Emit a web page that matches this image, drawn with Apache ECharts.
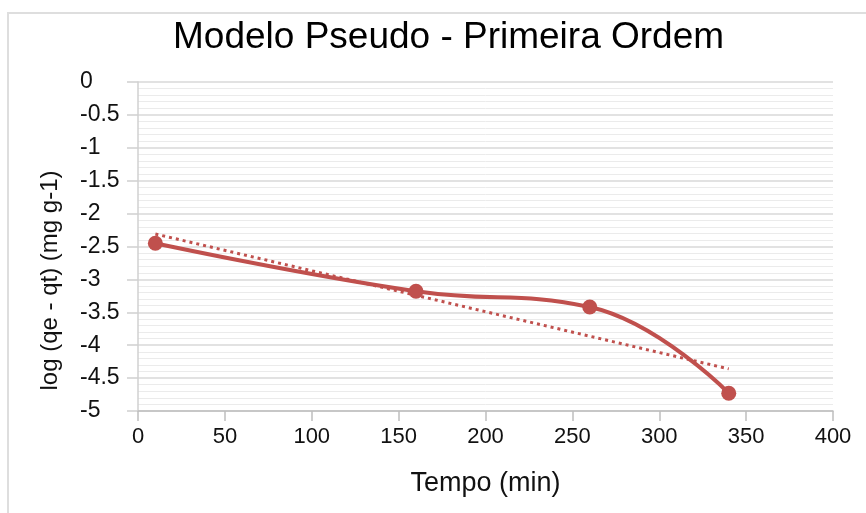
<!DOCTYPE html>
<html>
<head>
<meta charset="utf-8">
<script src="https://cdn.jsdelivr.net/npm/echarts@6/dist/echarts.min.js"></script>
<style>
html,body{margin:0;padding:0;background:#fff;}
#chart{width:866px;height:513px;}
</style>
</head>
<body>
<div id="chart"></div>
<script>
const tempo = [10, 160, 260, 340];
const logValues = [-2.45, -3.18, -3.42, -4.73];
const trendX = [10, 340];
const trendY = [-2.31, -4.36];
const xTicks = [0, 50, 100, 150, 200, 250, 300, 350, 400];
const yTicks = [0, -0.5, -1, -1.5, -2, -2.5, -3, -3.5, -4, -4.5, -5];

const red = '#c0504d';
const chart = echarts.init(document.getElementById('chart'));
chart.setOption({
  animation: false,
  backgroundColor: '#fff',
  title: {
    text: 'Modelo Pseudo - Primeira Ordem',
    left: 168, top: 14,
    textStyle: {fontFamily: 'Liberation Sans', fontSize: 37, fontWeight: 'normal', color: '#000'}
  },
  graphic: [{
    type: 'rect', shape: {x: 8, y: 13, width: 900, height: 600},
    style: {fill: 'none', stroke: '#dedede', lineWidth: 2}, silent: true, z: -1
  }],
  grid: {left: 138, right: 33, top: 82, bottom: 102},
  xAxis: {
    type: 'value', min: xTicks[0], max: xTicks[xTicks.length - 1], interval: 50,
    name: 'Tempo (min)', nameLocation: 'middle', nameGap: 59,
    nameTextStyle: {fontFamily: 'Liberation Sans', fontSize: 27, color: '#111'},
    axisLine: {show: true, onZero: false, lineStyle: {color: '#bfbfbf', width: 1.5}},
    axisTick: {show: true, length: 10, lineStyle: {color: '#bfbfbf', width: 1.5}},
    axisLabel: {fontFamily: 'Liberation Sans', fontSize: 22, color: '#111', margin: 15},
    splitLine: {show: false}
  },
  yAxis: {
    type: 'value', min: yTicks[yTicks.length - 1], max: yTicks[0], interval: 0.5,
    name: 'log (qe - qt) (mg g-1)', nameLocation: 'middle', nameGap: 76, nameRotate: 90,
    nameTextStyle: {fontFamily: 'Liberation Sans', fontSize: 24, color: '#111', padding: [0, 68, 0, 0]},
    axisLine: {show: true, lineStyle: {color: '#d0d0d0', width: 1.5}},
    axisTick: {show: true, length: 11, lineStyle: {color: '#d0d0d0', width: 1.5}},
    axisLabel: {fontFamily: 'Liberation Sans', fontSize: 23, color: '#111', margin: 58, align: 'left',
      formatter: v => String(Math.round(v * 10) / 10)},
    splitLine: {show: true, lineStyle: {color: '#d9d9d9', width: 1.5}},
    minorTick: {show: false, splitNumber: 5},
    minorSplitLine: {show: true, lineStyle: {color: '#ebebeb', width: 1}}
  },
  series: [
    {
      type: 'line', data: tempo.map((t, i) => [t, logValues[i]]),
      smooth: 0.45, symbol: 'circle', symbolSize: 15,
      lineStyle: {color: red, width: 4}, itemStyle: {color: red}, z: 3
    },
    {
      type: 'line', data: trendX.map((t, i) => [t, trendY[i]]),
      symbol: 'none', lineStyle: {color: red, width: 3, type: [3, 4]}, z: 2
    }
  ]
});
</script>
</body>
</html>
